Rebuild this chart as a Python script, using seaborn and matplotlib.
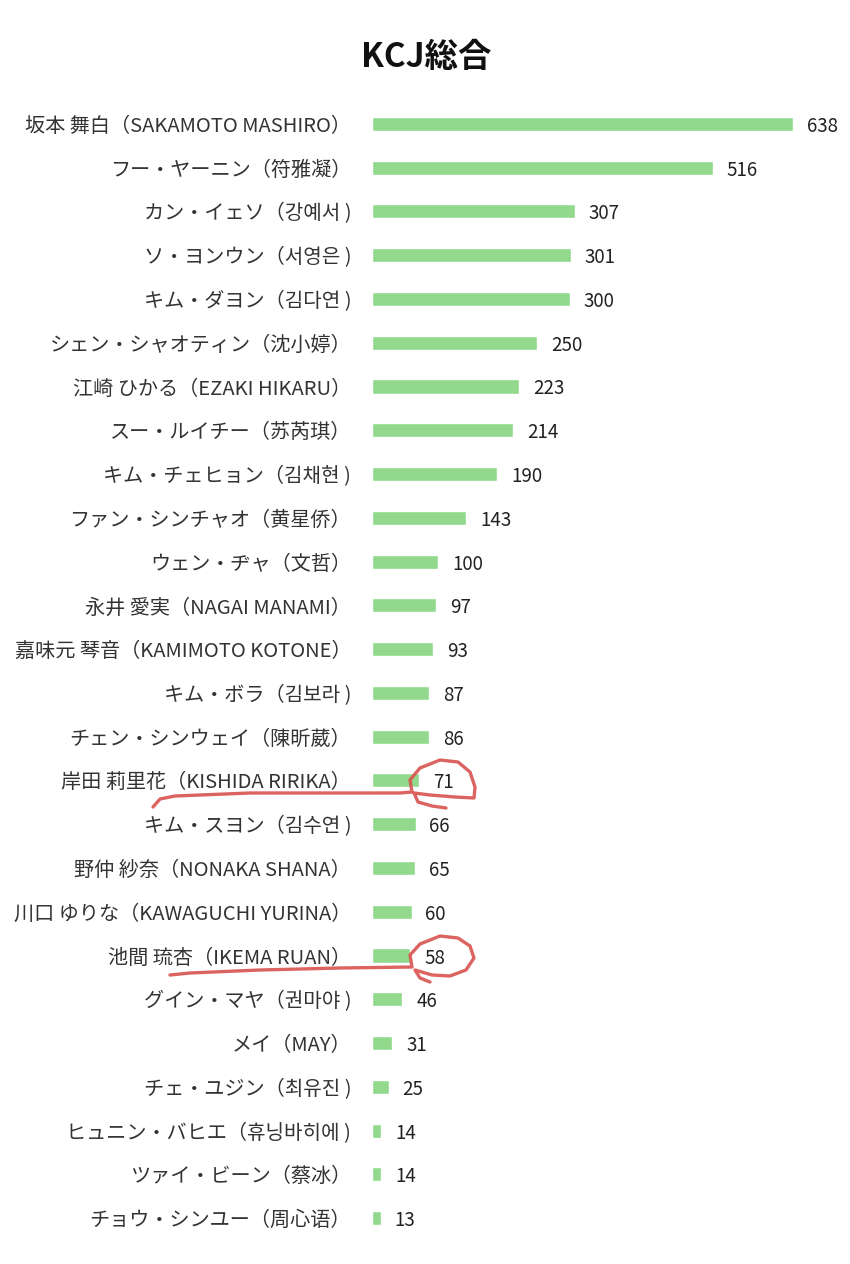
import numpy as np
import pandas as pd
import matplotlib
matplotlib.use("Agg")
import matplotlib.pyplot as plt
from matplotlib.lines import Line2D
import seaborn as sns

names = [
    "坂本 舞白（SAKAMOTO MASHIRO）",
    "フー・ヤーニン（符雅凝）",
    "カン・イェソ（강예서 )",
    "ソ・ヨンウン（서영은 )",
    "キム・ダヨン（김다연 )",
    "シェン・シャオティン（沈小婷）",
    "江崎 ひかる（EZAKI HIKARU）",
    "スー・ルイチー（苏芮琪）",
    "キム・チェヒョン（김채현 )",
    "ファン・シンチャオ（黄星侨）",
    "ウェン・ヂャ（文哲）",
    "永井 愛実（NAGAI MANAMI）",
    "嘉味元 琴音（KAMIMOTO KOTONE）",
    "キム・ボラ（김보라 )",
    "チェン・シンウェイ（陳昕葳）",
    "岸田 莉里花（KISHIDA RIRIKA）",
    "キム・スヨン（김수연 )",
    "野仲 紗奈（NONAKA SHANA）",
    "川口 ゆりな（KAWAGUCHI YURINA）",
    "池間 琉杏（IKEMA RUAN）",
    "グイン・マヤ（권마야 )",
    "メイ（MAY）",
    "チェ・ユジン（최유진 )",
    "ヒュニン・バヒエ（휴닝바히에 )",
    "ツァイ・ビーン（蔡冰）",
    "チョウ・シンユー（周心语）",
]
votes = [638, 516, 307, 301, 300, 250, 223, 214, 190, 143, 100, 97, 93,
         87, 86, 71, 66, 65, 60, 58, 46, 31, 25, 14, 14, 13]
title = "KCJ総合"

df = pd.DataFrame({"name": names, "votes": votes})

sns.set_theme(style="white")
plt.rcParams["font.family"] = ["Noto Sans CJK JP", "DejaVu Sans"]

W, H = 850, 1264
fig = plt.figure(figsize=(8.5, 12.64), dpi=100)
fig.patch.set_facecolor("white")
ax = fig.add_axes([372 / W, 1 - 1240 / H, 0.55, (1240 - 102) / H])

sns.barplot(data=df, x="votes", y="name", orient="h", color="#92D98D",
            saturation=1, width=0.32, ax=ax)
ax.set_xlim(0, 0.55 * W / 0.66)
for c in ax.containers:
    labels = ax.bar_label(c, padding=10, fontsize=13.5, color="#222222")
    for t in labels:
        t.set_va("center_baseline")

ax.set_xlabel("")
ax.set_ylabel("")
ax.set_xticks([])
sns.despine(ax=ax, left=True, bottom=True)
ax.tick_params(axis="y", length=0, pad=15, labelsize=14.5, labelcolor="#333333")

fig.text(426 / W, 1 - 58 / H, title, ha="center", va="center",
         fontsize=24, fontweight="bold", color="#111111")

# hand-drawn red marks (pixel coordinates -> figure fraction)
def stroke(pts):
    pts = np.asarray(pts, dtype=float)
    fig.add_artist(Line2D(pts[:, 0] / W, 1 - pts[:, 1] / H,
                          transform=fig.transFigure, color="#D9534F",
                          lw=2.4, solid_capstyle="round",
                          solid_joinstyle="round", alpha=0.9))

mark1 = [(153, 807), (160, 799), (175, 796), (250, 793), (330, 793),
         (400, 793), (412, 792), (410, 780), (420, 768), (440, 760),
         (458, 762), (470, 772), (475, 787), (474, 798), (455, 797),
         (430, 795), (414, 793), (418, 802), (432, 806), (446, 808)]
mark2 = [(170, 975), (190, 973), (260, 970), (340, 968), (412, 967),
         (410, 955), (420, 944), (440, 936), (458, 938), (470, 946),
         (474, 958), (466, 970), (450, 976), (432, 975), (415, 970),
         (420, 978), (430, 982)]
stroke(mark1)
stroke(mark2)

fig.savefig("out.png", dpi=100, facecolor="white")
